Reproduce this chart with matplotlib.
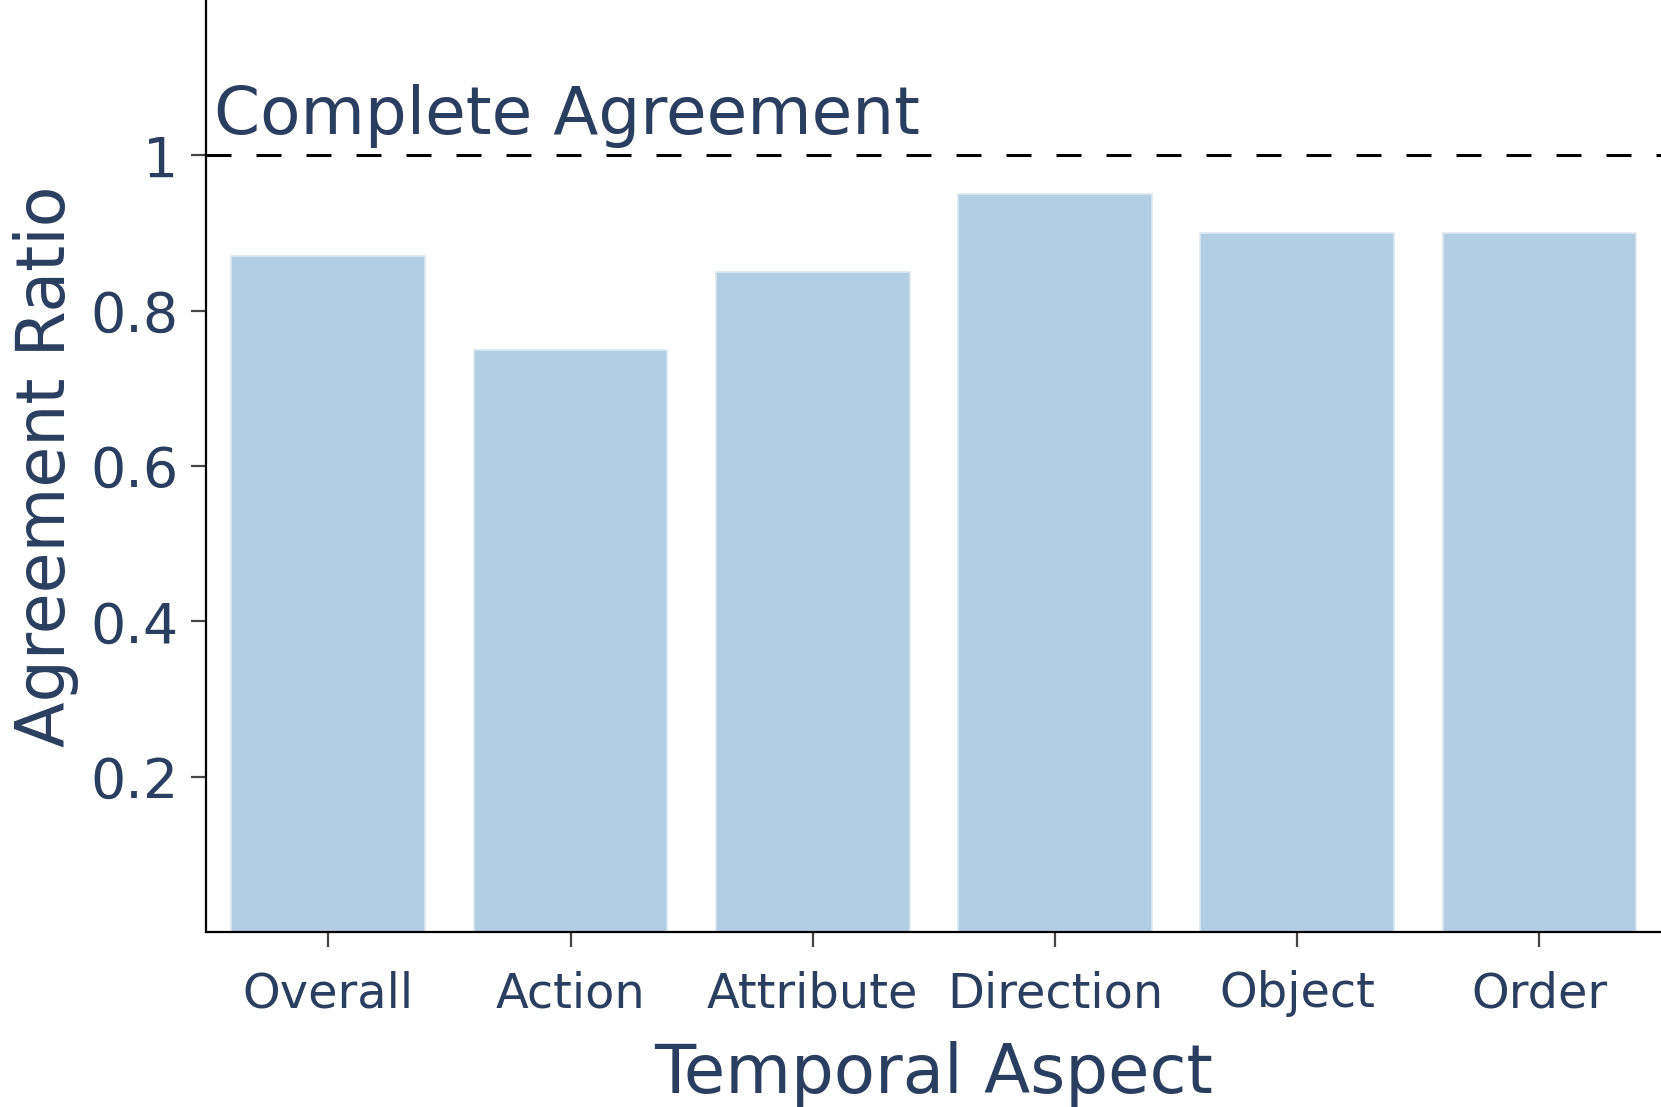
import matplotlib
matplotlib.use("Agg")
import matplotlib.pyplot as plt

categories = ["Overall", "Action", "Attribute", "Direction", "Object", "Order"]
values = [0.87, 0.75, 0.85, 0.95, 0.90, 0.90]
yticks = [0.2, 0.4, 0.6, 0.8, 1.0]
ytick_labels = ["0.2", "0.4", "0.6", "0.8", "1"]

TXT = "#2a3f5f"
plt.rcParams['font.family'] = ['DejaVu Sans']

W, H = 1661, 1107
fig = plt.figure(figsize=(W / 100, H / 100), dpi=100)
left, bottom = 205.5 / W, (H - 932) / H
ax = fig.add_axes([left, bottom, 1 - left, 1 - bottom])

x = list(range(len(categories)))
ax.bar(x, values, width=0.8, color="#b3cde3", edgecolor="#dde8f2", linewidth=1.2, zorder=2)

ax.set_xlim(-0.507, 5.502)
ax.set_ylim(0, 1.2)

lw = 2.2
ax.axhline(1.0, color="black", lw=lw, linestyle=(0, (18 / lw, 18 / lw)), zorder=3)
ax.annotate("Complete Agreement", xy=(0, 1.0), xycoords=("axes fraction", "data"),
            xytext=(6, 5.5), textcoords="offset points", ha="left", va="bottom",
            fontsize=47.5, color=TXT)

ax.set_xticks(x)
ax.set_xticklabels(categories)
ax.set_yticks(yticks)
ax.set_yticklabels(ytick_labels)
ax.tick_params(axis="both", direction="out", length=10.5, width=1.6, color="#444444",
               labelcolor=TXT)
ax.tick_params(axis="x", pad=17, labelsize=34.5)
ax.tick_params(axis="y", pad=9, labelsize=40)

for s in ["top", "right"]:
    ax.spines[s].set_visible(False)
for s in ["left", "bottom"]:
    ax.spines[s].set_linewidth(1.6)
    ax.spines[s].set_color("black")

ax.set_xlabel("Temporal Aspect", fontsize=48.5, color=TXT, labelpad=17)
ax.set_ylabel("Agreement Ratio", fontsize=48, color=TXT, labelpad=8)

fig.savefig("out.png", dpi=100)
